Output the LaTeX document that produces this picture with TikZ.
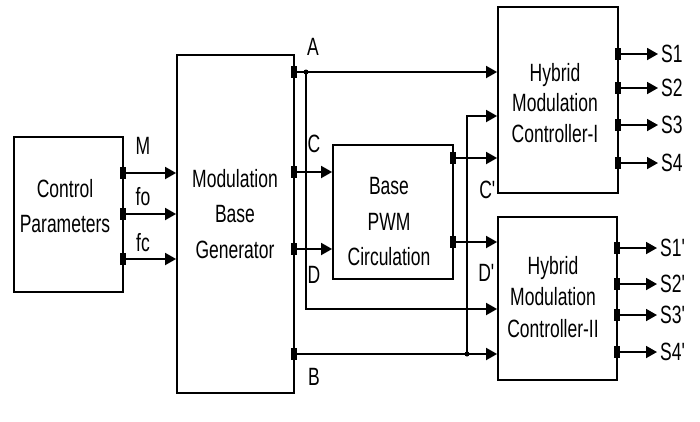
\documentclass[tikz,border=0pt]{standalone}
\usepackage{fontspec}
\setmainfont{Liberation Sans}[FakeStretch=0.70]
\usepackage{tikz}
\usetikzlibrary{positioning,arrows.meta,calc}
\newcommand{\sq}{\textquotesingle}

\begin{document}
\begin{tikzpicture}[x=1pt, y=-1pt, >={Triangle[length=11pt,width=12pt]},
  blk/.style={draw, line width=1.8pt, inner sep=0pt},
  port/.style={fill, inner sep=0pt, minimum width=6pt, minimum height=12pt},
  sig/.style={->, line width=1.8pt},
  txt/.style={align=center, inner sep=0pt, font=\fontsize{25}{35.5}\selectfont},
  lbl/.style={inner sep=0pt, font=\fontsize{25}{28}\selectfont}]
  \useasboundingbox (0,0) rectangle (700,421);
  % blocks
  \node[blk, minimum width=109pt, minimum height=155pt] (cp)   at (68.5,214.5) {};
  \node[blk, minimum width=117pt, minimum height=338pt] (mbg)  at (235.5,224) {};
  \node[blk, minimum width=120pt, minimum height=134pt] (bpc)  at (393,212) {};
  \node[blk, minimum width=120pt, minimum height=186pt] (hmc1) at (558,100) {};
  \node[blk, minimum width=119pt, minimum height=163pt] (hmc2) at (557.5,298.5) {};
  \node[txt] (cptxt)   at (65,206)  {Control\\Parameters};
  \node[txt] (mbgtxt)  at (235,214) {Modulation\\Base\\Generator};
  \node[txt] (bpctxt)  at (389,222) {Base\\PWM\\Circulation};
  \node[txt, font=\fontsize{25}{30.5}\selectfont] (hmc1txt) at (555,103) {Hybrid\\Modulation\\Controller-I};
  \node[txt, font=\fontsize{25}{31.5}\selectfont] (hmc2txt) at (553,297) {Hybrid\\Modulation\\Controller-II};
  % ports
  \node[port] (cpM)  at (123,173) {};
  \node[port] (cpfo) at (123,214) {};
  \node[port] (cpfc) at (123,259) {};
  \node[port] (mbgA) at (294,72) {};
  \node[port] (mbgC) at (294,172) {};
  \node[port] (mbgD) at (294,249) {};
  \node[port] (mbgB) at (294,354) {};
  \node[port] (bpcC) at (453,158) {};
  \node[port] (bpcD) at (453,242) {};
  \coordinate (jA) at (306,72);
  \coordinate (jB) at (467,354);
  % signals
  \draw[sig] (cpM.center) -- (cpM -| mbg.west);
  \draw[sig] (cpfo.center) -- (cpfo -| mbg.west);
  \draw[sig] (cpfc.center) -- (cpfc -| mbg.west);
  \draw[sig] (mbgA.center) -- (mbgA -| hmc1.west);
  \draw[sig] (mbgC.center) -- (mbgC -| bpc.west);
  \draw[sig] (mbgD.center) -- (mbgD -| bpc.west);
  \draw[sig] (mbgB.center) -- (mbgB -| hmc2.west);
  \draw[sig] (bpcC.center) -- (bpcC -| hmc1.west);
  \draw[sig] (bpcD.center) -- (bpcD -| hmc2.west);
  \draw[sig] (jA) |- (hmc2.west |- 0,309);
  \draw[sig] (jB) |- (hmc1.west |- 0,116);
  \fill (jA) circle (2.5pt);
  \fill (jB) circle (2.5pt);
  % outputs
  \foreach \y/\s in {54/1, 88/2, 125/3, 163/4} {
    \node[port] (hA\s) at (618,\y) {};
    \node[lbl, anchor=west] (sA\s) at (661,\y) {S\s};
    \draw[sig, shorten >=3pt] (hA\s.center) -- (sA\s.west);
  }
  \foreach \y/\s in {248/1, 284/2, 315/3, 352/4} {
    \node[port] (hB\s) at (617,\y) {};
    \node[lbl, anchor=west] (sB\s) at (660,\y) {S\s\sq};
    \draw[sig, shorten >=3pt] (hB\s.center) -- (sB\s.west);
  }
  % labels
  \node[lbl] (lM)  at (143,146) {M};
  \node[lbl] (lfo) at (143,197) {fo};
  \node[lbl] (lfc) at (143,243) {fc};
  \node[lbl] (lA)  at (313,47)  {A};
  \node[lbl] (lC)  at (314,144) {C};
  \node[lbl] (lD)  at (314,275) {D};
  \node[lbl] (lB)  at (314,377) {B};
  \node[lbl] (lC2) at (488,190) {C\sq};
  \node[lbl] (lD2) at (487,273) {D\sq};
\end{tikzpicture}
\end{document}
